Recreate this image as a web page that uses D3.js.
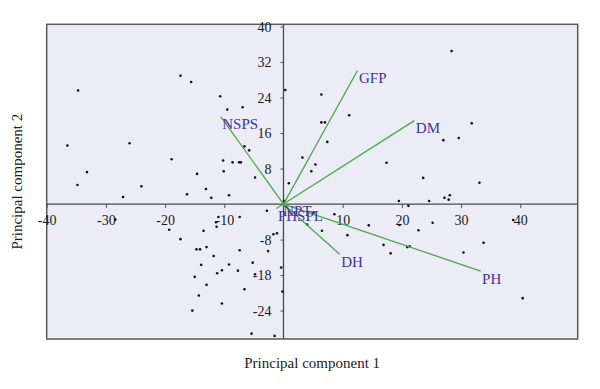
<!DOCTYPE html>
<html>
<head>
<meta charset="utf-8">
<script src="https://cdn.jsdelivr.net/npm/d3@7"></script>
<style>
    body { margin: 0; background: #ffffff; }
    svg { display: block; font-family: "Liberation Serif", "DejaVu Serif", serif; }
</style>
</head>
<body>
<svg id="chart" width="600" height="389"></svg>
<script>
// Scores (principal component 1 / principal component 2)
const pc1 = [
    -17.4, -15.6, -34.7, -10.7, -9.5, -6.9, -36.5, -26.0, -6.6, -5.8, -18.9, -10.2, -8.6,
    -7.5, -7.2, -33.2, -14.6, -10.1, -4.8, -34.8, -24.0, -13.1, -16.3, -27.1, -12.2, -9.2,
    0.3, 6.4, 11.1, 6.4, 7.0, 7.4, 3.2, 5.4, 4.7, 0.9, 0.1, 17.4, 28.4, 31.8, 29.6, 27.0,
    33.1, 23.6, 19.5, 24.6, 27.2, 27.9, 28.1,
    -2.8, -28.4, -11.0, -11.4, -11.3, -19.3, -13.5, -17.4, -14.7, -14.1, -13.0, -11.8,
    -13.9, -11.2, -10.4, -15.0, -13.0, -14.3, -10.4, -15.4, -9.2, -7.4, -7.7, -5.2, -4.8,
    -6.6, -2.6, -1.7, -1.1, -7.4, -0.4, -0.2, -5.4, -1.5,
    4.0, 6.5, 8.6, 5.1, 10.8, 14.4, 16.9, 18.1, 21.1, 19.6, 20.9, 21.3, 22.8, 25.2, 30.4,
    33.8, 40.4, 38.8
];
const pc2 = [
    28.9, 27.5, 25.6, 24.3, 21.3, 21.8, 13.2, 13.7, 13.0, 12.1, 10.1, 9.8, 9.4,
    9.4, 9.4, 7.2, 6.8, 7.4, 6.0, 4.3, 4.0, 3.4, 2.2, 1.6, 1.4, 2.0,
    25.7, 24.7, 20.0, 18.4, 18.4, 14.0, 10.5, 8.9, 7.4, 4.7, 0.7, 9.3, 34.5, 18.2, 14.9, 14.4,
    4.8, 5.9, 0.7, 0.7, 1.4, 1.0, 2.0,
    -1.5, -3.5, -2.9, -4.1, -5.1, -5.8, -6.0, -7.9, -10.2, -10.2, -9.7, -11.7,
    -13.7, -15.6, -14.9, -16.4, -18.2, -20.6, -22.4, -24.0, -13.6, -10.4, -15.0, -13.2, -15.8,
    -19.2, -10.6, -6.8, -6.6, -2.9, -14.3, -19.7, -29.2, -29.7,
    -4.6, -6.0, -2.3, -1.9, -7.0, -4.8, -9.2, -11.1, -0.4, -4.7, -9.7, -9.5, -5.9, -4.2, -10.9,
    -8.7, -21.2, -3.6
];

// Trait loadings (vector ends)
const traits = ["NSPS", "GFP", "DM", "DH", "PH", "NPT", "PHSPL"];
const loadX = [-10.6, 12.5, 22.1, 9.5, 33.3, -0.3, -1.2];
const loadY = [19.7, 30.1, 18.8, -11.3, -15.1, 0.1, -1.0];

// Axis ticks
const xTicks = [-40, -30, -20, -10, 10, 20, 30, 40];
const xTickLabels = ["-40", "-30", "-20", "-10", "10", "20", "30", "40"];
const yTicks = [40, 32, 24, 16, 8, -8, -16, -24];
const yTickLabels = ["40", "32", "24", "16", "8", "-8", "-18", "-24"];

document.addEventListener("DOMContentLoaded", function() {
    const svg = d3.select("#chart");

    const left = 46.7, right = 577.7, top = 24.3, bottom = 339;

    const x = d3.scaleLinear().domain([-40, 49.7]).range([left, right]);
    const y = d3.scaleLinear().domain([-30.4, 40.5]).range([bottom, top]);

    // plot background + frame
    svg.append("rect")
        .attr("x", left)
        .attr("y", top)
        .attr("width", right - left)
        .attr("height", bottom - top)
        .attr("fill", "#ececf6")
        .attr("stroke", "#5a5a5a")
        .attr("stroke-width", 1.5);

    // axes through the origin
    const xAxis = d3.axisBottom(x)
        .tickValues(xTicks)
        .tickFormat((d, i) => xTickLabels[i])
        .tickSize(4)
        .tickPadding(7);

    const yAxis = d3.axisLeft(y)
        .tickValues(yTicks)
        .tickFormat((d, i) => yTickLabels[i])
        .tickSize(3)
        .tickPadding(9);

    const gx = svg.append("g")
        .attr("transform", `translate(0,${y(0)})`)
        .call(xAxis);

    const gy = svg.append("g")
        .attr("transform", `translate(${x(0)},0)`)
        .call(yAxis);

    [gx, gy].forEach(g => {
        g.select(".domain").remove();
        g.selectAll(".tick line").attr("stroke", "#555").attr("stroke-width", 1);
        g.selectAll(".tick text")
            .attr("fill", "#1a1a1a")
            .style("font-family", "Liberation Serif, serif")
            .style("font-size", "14px");
    });

    svg.append("line")
        .attr("x1", left).attr("x2", right)
        .attr("y1", y(0)).attr("y2", y(0))
        .attr("stroke", "#4a4a4a")
        .attr("stroke-width", 1.3);

    svg.append("line")
        .attr("x1", x(0)).attr("x2", x(0))
        .attr("y1", top).attr("y2", bottom)
        .attr("stroke", "#4a4a4a")
        .attr("stroke-width", 1.3);

    // score points
    svg.append("g")
        .selectAll("circle")
        .data(d3.range(pc1.length))
        .enter()
        .append("circle")
        .attr("cx", i => x(pc1[i]))
        .attr("cy", i => y(pc2[i]))
        .attr("r", 1.3)
        .attr("fill", "#111");

    // loading vectors
    const vec = svg.append("g");
    vec.selectAll("line")
        .data(traits)
        .enter()
        .append("line")
        .attr("x1", x(0))
        .attr("y1", y(0))
        .attr("x2", (d, i) => x(loadX[i]))
        .attr("y2", (d, i) => y(loadY[i]))
        .attr("stroke", "#4aa84a")
        .attr("stroke-width", 1.3);

    vec.selectAll("text")
        .data(traits)
        .enter()
        .append("text")
        .attr("x", (d, i) => x(loadX[i]) + 1.5)
        .attr("y", (d, i) => y(loadY[i]) + 12.5)
        .attr("fill", "#3d3599")
        .style("font-size", "15px")
        .text(d => d);

    // axis titles
    svg.append("text")
        .attr("x", (left + right) / 2)
        .attr("y", 368)
        .attr("text-anchor", "middle")
        .attr("fill", "#222")
        .style("font-size", "15px")
        .text("Principal component 1");

    svg.append("text")
        .attr("transform", `translate(22,${(top + bottom) / 2}) rotate(-90)`)
        .attr("text-anchor", "middle")
        .attr("fill", "#222")
        .style("font-size", "15px")
        .text("Principal component 2");
});
</script>
</body>
</html>
